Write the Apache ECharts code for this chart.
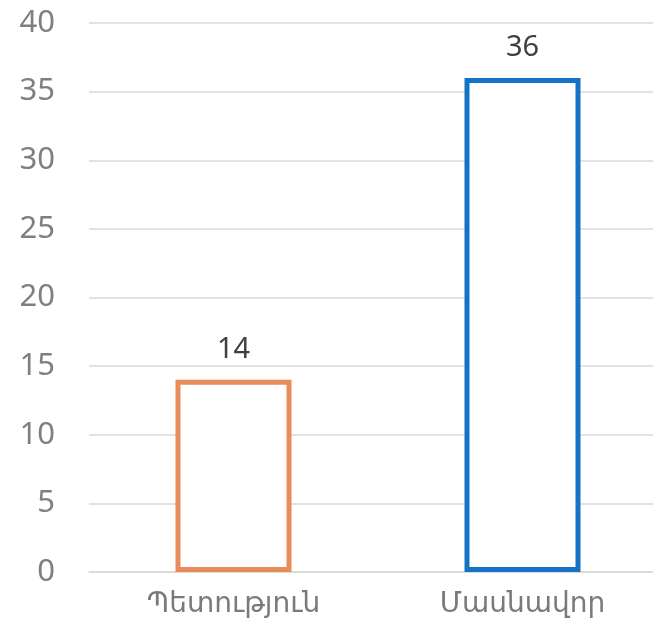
<!DOCTYPE html>
<html>
<head>
<meta charset="utf-8">
<script src="https://cdn.jsdelivr.net/npm/echarts@6/dist/echarts.min.js"></script>
<style>
  html, body { margin: 0; padding: 0; background: #fff; }
  #chart { width: 653px; height: 637px; }
</style>
</head>
<body>
<div id="chart"></div>
<script>
// categories and values
const categories = ["Պետություն", "Մասնավոր"];
const values = [14, 36];
const barColors = ["#E88C5C", "#1473C5"];
const yTicks = { min: 0, max: 40, interval: 5 };

var myChart = echarts.init(document.getElementById("chart"));

myChart.setOption({
  animation: false,
  grid: {
    left: 89,
    width: 578,
    top: 23,
    bottom: 65,
    outerBoundsMode: "none",
    containLabel: false,
  },
  xAxis: {
    type: "category",
    data: categories,
    axisLine: { show: true, lineStyle: { color: "#d9d9d9", width: 1.5 } },
    axisTick: { show: false },
    axisLabel: {
      color: "#7a7a7a",
      fontSize: 28,
      fontFamily: "'Noto Sans', 'DejaVu Sans', sans-serif",
      margin: 18,
    },
  },
  yAxis: {
    type: "value",
    min: yTicks.min,
    max: yTicks.max,
    interval: yTicks.interval,
    axisLine: { show: false },
    axisTick: { show: false },
    splitLine: { lineStyle: { color: "#d9d9d9", width: 1.5 } },
    axisLabel: {
      color: "#7f7f7f",
      fontSize: 31,
      fontFamily: "'Noto Sans', sans-serif",
      margin: 34,
    },
  },
  series: [
    {
      type: "bar",
      barWidth: 116,
      data: values.map((v, i) => ({
        value: v,
        itemStyle: {
          color: "#ffffff",
          borderColor: barColors[i],
          borderWidth: 5,
        },
      })),
      label: {
        show: true,
        position: "top",
        distance: 16,
        color: "#404040",
        fontSize: 29,
        fontFamily: "'Noto Sans', sans-serif",
      },
    },
  ],
});
</script>
</body>
</html>
